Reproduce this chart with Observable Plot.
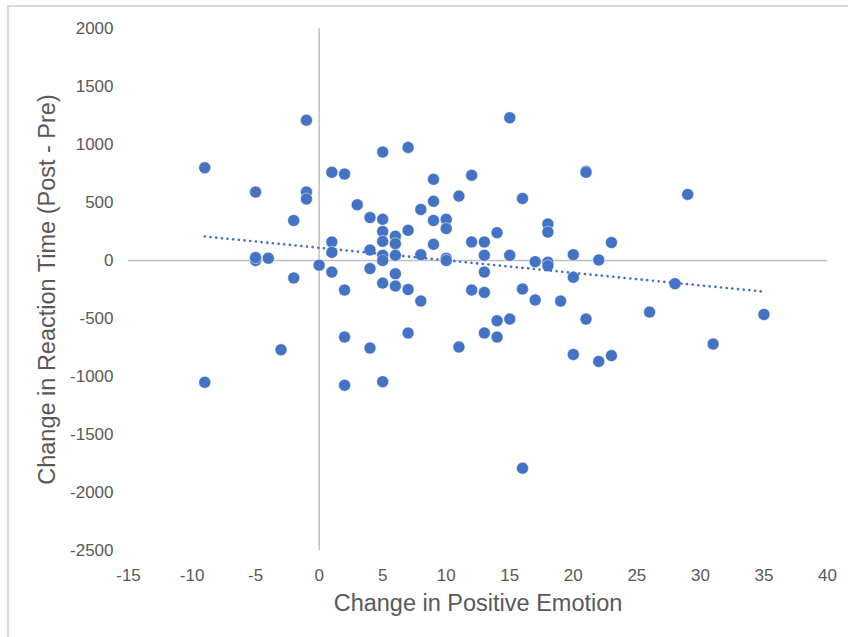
<!DOCTYPE html>
<html>
<head>
<meta charset="utf-8">
<script src="https://cdn.jsdelivr.net/npm/d3@7"></script>
<script src="https://cdn.jsdelivr.net/npm/@observablehq/plot@0.6"></script>
<style>
  html, body { margin: 0; padding: 0; background: #fff; overflow: hidden; }
  #wrap { position: relative; width: 848px; height: 637px; }
  #wrap svg { position: absolute; left: 0; top: 0; }
  #frame {
    position: absolute; left: 7px; top: 5px; width: 900px; height: 700px;
    border: 2px solid #d9d9d9; pointer-events: none;
  }
</style>
</head>
<body>
<div id="wrap"><div id="frame"></div></div>
<script>
// Change in positive emotion (x) against change in reaction time, post minus pre (y)
const emotionChange = [
  -9, -9, -5, -5, -5, -4, -3, -2, -2, -1, -1, -1, 0,
  1, 1, 1, 1, 2, 2, 2, 2, 3, 4, 4, 4, 4,
  5, 5, 5, 5, 5, 5, 5, 5, 6, 6, 6, 6, 6,
  7, 7, 7, 7, 8, 8, 8, 9, 9, 9, 9, 10, 10, 10, 10,
  11, 11, 12, 12, 12, 13, 13, 13, 13, 13, 14, 14, 14,
  15, 15, 15, 16, 16, 16, 17, 17, 18, 18, 18, 18, 19,
  20, 20, 20, 21, 21, 21, 22, 22, 23, 23, 26, 28, 29, 31, 35
];
const reactionChange = [
  800, -1050, 590, 0, 25, 20, -770, 345, -150, 1210, 590, 530, -40,
  760, 160, 70, -100, 745, -255, -660, -1075, 480, 370, 90, -70, -755,
  935, 355, 250, 165, 45, 0, -195, -1045, 210, 145, 45, -115, -220,
  975, 260, -250, -625, 440, 50, -350, 700, 510, 345, 140, 355, 275, 20, 0,
  555, -745, 735, 160, -255, 160, 45, -100, -275, -625, 240, -520, -660,
  1230, 45, -505, 535, -245, -1790, -10, -340, 315, 245, -15, -45, -350,
  50, -145, -810, 770, 760, -505, 5, -870, 155, -820, -445, -200, 570, -720, -465
];
const xTicks = [-15, -10, -5, 0, 5, 10, 15, 20, 25, 30, 35, 40];
const yTicks = [-2500, -2000, -1500, -1000, -500, 0, 500, 1000, 1500, 2000];
const xTitle = "Change in Positive Emotion";
const yTitle = "Change in Reaction Time (Post - Pre)";

const points = emotionChange.map((x, i) => ({x, y: reactionChange[i]}));

const blue = "#4472C4";
const axisGray = "#595959";
const lineGray = "#bfbfbf";

const chart = Plot.plot({
  width: 848,
  height: 637,
  marginLeft: 128,
  marginRight: 21,
  marginTop: 28,
  marginBottom: 87,
  style: {fontFamily: "'Liberation Sans', Arial, sans-serif", background: "transparent"},
  x: {domain: [-15, 40]},
  y: {domain: [-2500, 2000]},
  marks: [
    Plot.ruleX([0], {stroke: lineGray, strokeWidth: 1.5}),
    Plot.ruleY([0], {stroke: lineGray, strokeWidth: 1.5}),
    Plot.axisX({ticks: xTicks, tickSize: 0, tickPadding: 18, fontSize: 17, fill: axisGray, label: null, tickFormat: d => String(d)}),
    Plot.axisY({ticks: yTicks, tickSize: 0, tickPadding: 15, fontSize: 17, fill: axisGray, label: null, tickFormat: d => String(d)}),
    Plot.dot(points, {x: "x", y: "y", r: 6, fill: blue, stroke: "#ffffff", strokeWidth: 0.5}),
    Plot.linearRegressionY(points, {x: "x", y: "y", ci: 0, stroke: blue, strokeWidth: 2.6, strokeDasharray: "0.1 5.6", strokeLinecap: "round"}),
    Plot.text([xTitle], {frameAnchor: "bottom", dy: 53, textAnchor: "middle", lineAnchor: "middle", fontSize: 23.5, fill: axisGray}),
    Plot.text([yTitle], {frameAnchor: "left", dx: -81, rotate: -90, textAnchor: "middle", lineAnchor: "middle", fontSize: 23.5, fill: axisGray})
  ]
});

document.getElementById("wrap").prepend(chart);
</script>
</body>
</html>
